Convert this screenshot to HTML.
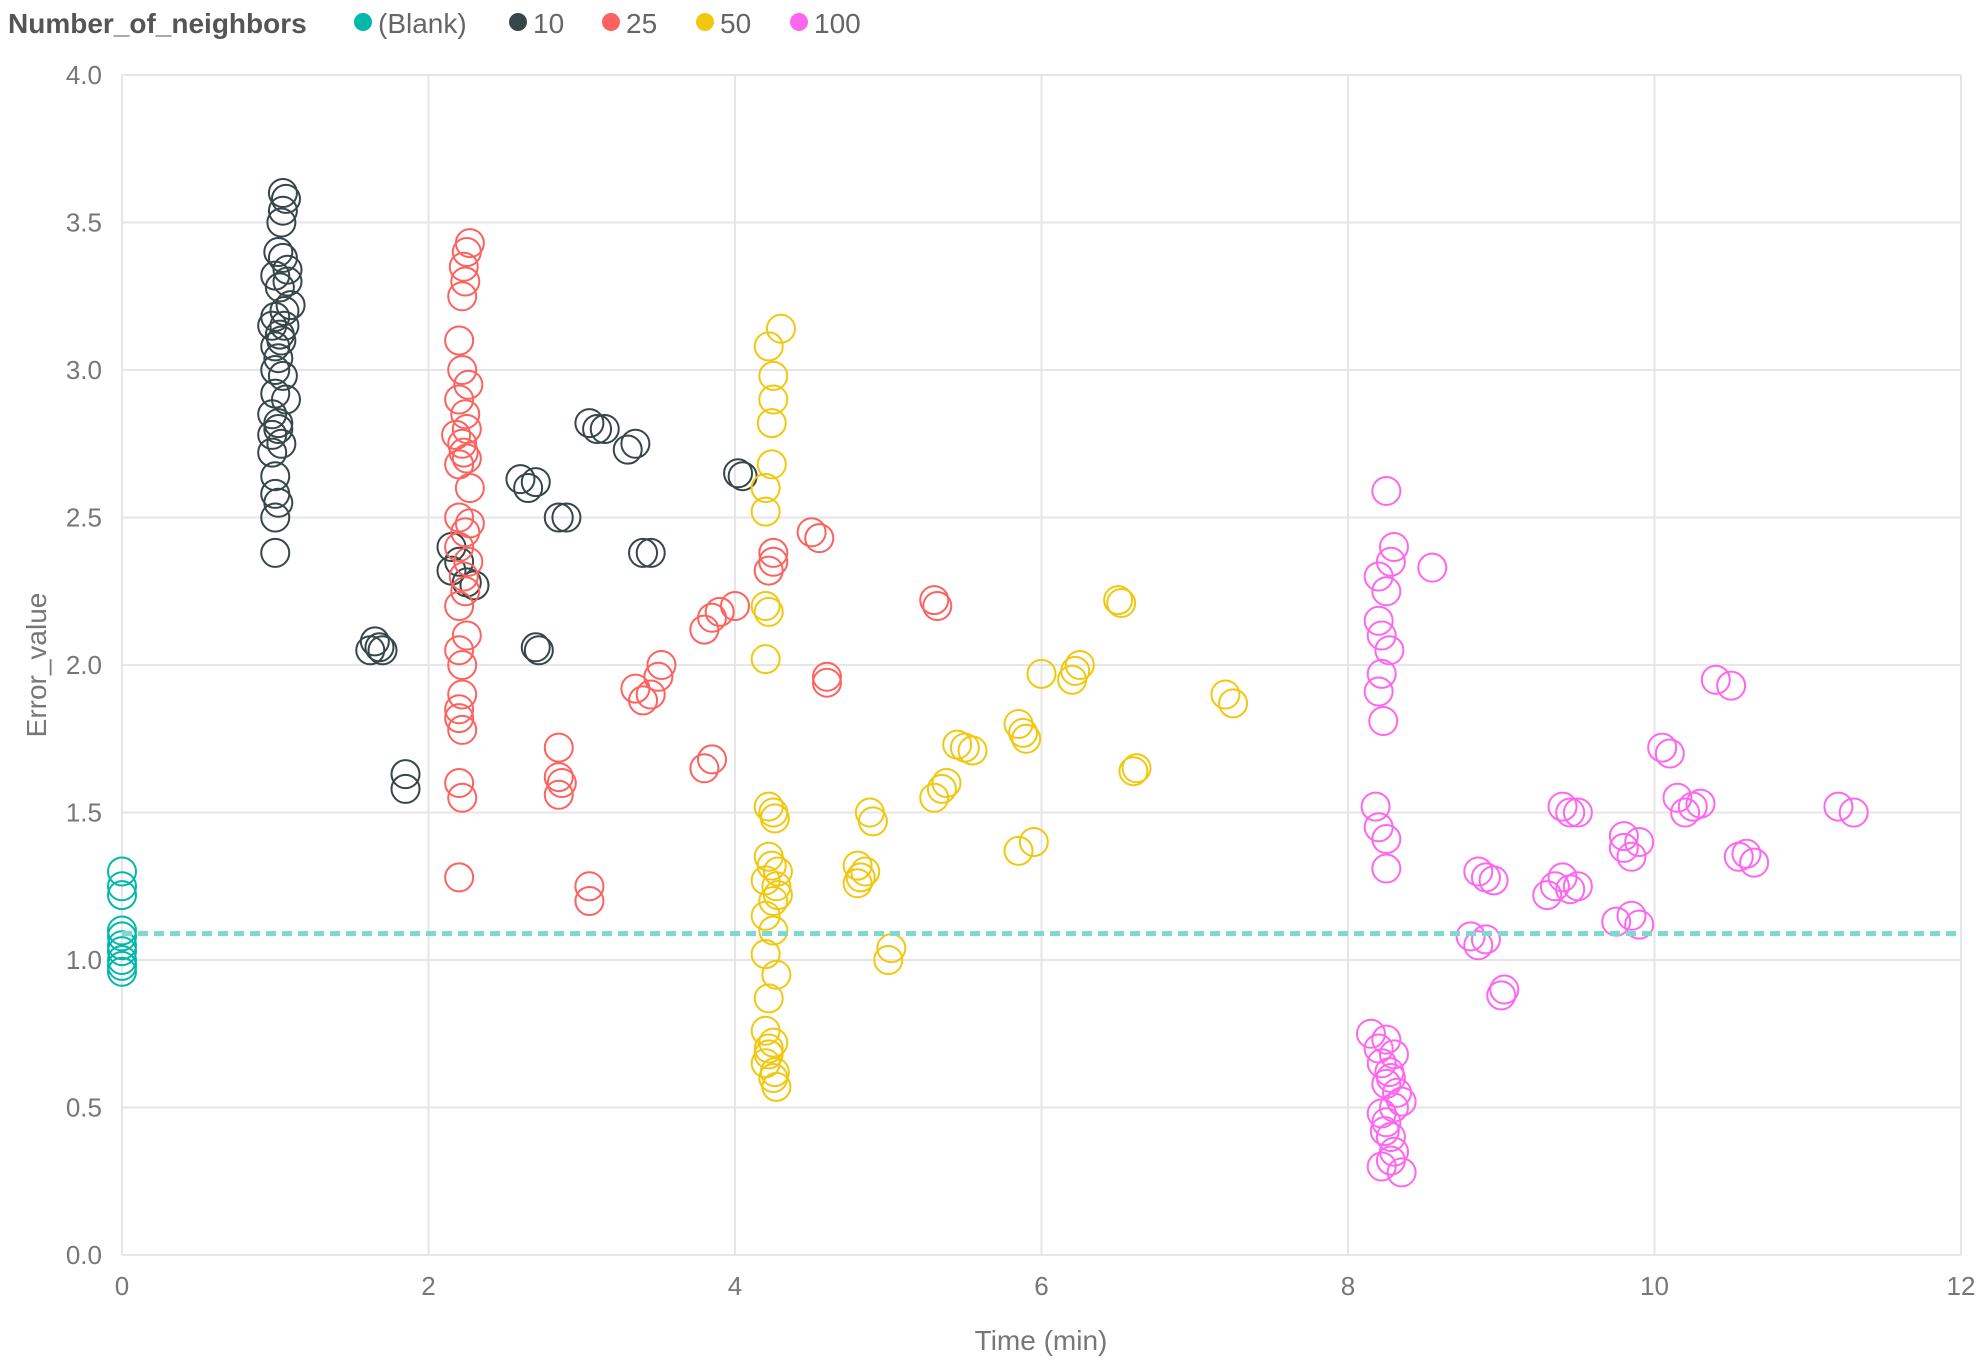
<!DOCTYPE html>
<html><head><meta charset="utf-8"><style>
body{margin:0;background:#fff;font-family:"Segoe UI","Liberation Sans",sans-serif;}
svg{display:block}
</style></head><body>
<svg id="chart" width="1985" height="1368" xmlns="http://www.w3.org/2000/svg">
<g id="legend" font-size="28" fill="#666">
<text x="8" y="33" font-weight="bold" fill="#555">Number_of_neighbors</text>
<g><circle cx="363" cy="22" r="9" fill="#01B8AA"/><text x="378" y="33">(Blank)</text></g>
<g><circle cx="518" cy="22" r="9" fill="#374649"/><text x="533" y="33">10</text></g>
<g><circle cx="611" cy="22" r="9" fill="#FD625E"/><text x="626" y="33">25</text></g>
<g><circle cx="705" cy="22" r="9" fill="#F2C80F"/><text x="720" y="33">50</text></g>
<g><circle cx="799" cy="22" r="9" fill="#FF66F0"/><text x="814" y="33">100</text></g>
</g>
<g id="grid"></g>
<g id="axes"></g>
<g id="marks"></g>
<text x="1041" y="1350" text-anchor="middle" font-size="28" fill="#777">Time (min)</text>
<text transform="translate(46,665) rotate(-90)" text-anchor="middle" font-size="28" fill="#777">Error_value</text>
</svg>
<script>
const xTicks=[0,2,4,6,8,10,12];
const yTicks=[0,0.5,1,1.5,2,2.5,3,3.5,4];
const yTickLabels=["0.0","0.5","1.0","1.5","2.0","2.5","3.0","3.5","4.0"];
const seriesNames=["(Blank)","10","25","50","100"];
const seriesColors=["#01B8AA","#374649","#FD625E","#F2C80F","#FF66F0"];
const blankX=[0,0,0,0,0,0,0,0,0,0];
const blankY=[1.3,1.25,1.22,1.1,1.08,1.05,1.03,1.0,0.98,0.96];
const blankAverage=1.09;
const n10X=[1.05,1.07,1.05,1.04,1.02,1.05,1.0,1.08,1.03,1.1,1.0,1.06,0.98,1.04,1.0,1.02,1.05,1.0,0.98,1.02,0.98,1.04,0.98,1.0,1.0,1.02,1.0,1.0,1.08,1.06,1.03,1.0,1.07,1.02,1.65,1.68,1.62,1.7,1.85,1.85,2.15,2.2,2.15,2.25,2.3,2.6,2.65,2.7,2.85,2.9,2.7,2.72,3.05,3.1,3.15,3.3,3.35,3.4,3.45,4.02,4.05];
const n10Y=[3.6,3.58,3.54,3.5,3.4,3.38,3.32,3.3,3.28,3.22,3.18,3.15,3.15,3.1,3.08,3.04,2.98,2.92,2.85,2.82,2.78,2.75,2.72,2.64,2.58,2.55,2.5,2.38,3.34,3.2,3.12,3.0,2.9,2.8,2.08,2.06,2.05,2.05,1.63,1.58,2.4,2.35,2.32,2.28,2.27,2.63,2.6,2.62,2.5,2.5,2.06,2.05,2.82,2.8,2.8,2.73,2.75,2.38,2.38,2.65,2.64];
const n25X=[2.27,2.25,2.23,2.24,2.22,2.2,2.22,2.26,2.2,2.24,2.18,2.22,2.25,2.2,2.27,2.2,2.24,2.2,2.26,2.23,2.2,2.25,2.2,2.22,2.22,2.2,2.22,2.2,2.22,2.2,2.25,2.23,2.27,2.24,2.2,2.85,2.85,2.87,2.85,3.05,3.05,3.35,3.4,3.45,3.5,3.52,3.8,3.85,3.8,3.85,3.9,4.0,4.25,4.25,4.22,4.5,4.55,4.6,4.6,5.3,5.32];
const n25Y=[3.43,3.4,3.35,3.3,3.25,3.1,3.0,2.95,2.9,2.85,2.78,2.75,2.7,2.68,2.6,2.5,2.45,2.4,2.35,2.3,2.2,2.1,2.05,2.0,1.9,1.82,1.78,1.6,1.55,1.28,2.8,2.72,2.48,2.25,1.85,1.72,1.62,1.6,1.56,1.25,1.2,1.92,1.88,1.9,1.96,2.0,1.65,1.68,2.12,2.16,2.18,2.2,2.38,2.35,2.32,2.45,2.43,1.96,1.94,2.22,2.2];
const n50X=[4.3,4.22,4.25,4.25,4.24,4.24,4.2,4.2,4.2,4.22,4.2,4.22,4.25,4.26,4.22,4.28,4.2,4.27,4.25,4.2,4.25,4.2,4.27,4.22,4.2,4.25,4.22,4.2,4.25,4.27,4.24,4.28,4.22,4.26,4.8,4.82,4.85,4.8,4.88,4.9,5.0,5.02,5.3,5.35,5.38,5.45,5.5,5.55,5.85,5.88,5.9,5.85,5.95,6.0,6.2,6.22,6.25,6.5,6.52,6.6,6.62,7.2,7.25];
const n50Y=[3.14,3.08,2.98,2.9,2.82,2.68,2.6,2.52,2.2,2.18,2.02,1.52,1.5,1.48,1.35,1.3,1.27,1.25,1.2,1.15,1.1,1.02,0.95,0.87,0.76,0.72,0.68,0.65,0.6,0.57,1.32,1.22,0.7,0.62,1.32,1.28,1.3,1.26,1.5,1.47,1.0,1.04,1.55,1.58,1.6,1.73,1.72,1.71,1.8,1.77,1.75,1.37,1.4,1.97,1.95,1.98,2.0,2.22,2.21,1.64,1.65,1.9,1.87];
const n100X=[8.25,8.3,8.28,8.2,8.25,8.2,8.22,8.27,8.22,8.2,8.23,8.18,8.2,8.25,8.25,8.15,8.25,8.2,8.3,8.22,8.28,8.25,8.32,8.35,8.22,8.25,8.28,8.3,8.22,8.35,8.27,8.3,8.24,8.28,8.55,8.8,8.85,8.9,8.85,8.9,8.95,9.0,9.02,9.3,9.35,9.4,9.45,9.5,9.4,9.45,9.5,9.75,9.8,9.8,9.85,9.9,9.9,9.85,10.05,10.1,10.15,10.2,10.25,10.3,10.4,10.5,10.55,10.6,10.65,11.2,11.3];
const n100Y=[2.59,2.4,2.35,2.3,2.25,2.15,2.1,2.05,1.97,1.91,1.81,1.52,1.45,1.41,1.31,0.75,0.73,0.7,0.68,0.65,0.6,0.58,0.55,0.52,0.48,0.45,0.4,0.35,0.3,0.28,0.62,0.5,0.42,0.32,2.33,1.08,1.05,1.07,1.3,1.28,1.27,0.88,0.9,1.22,1.25,1.28,1.24,1.25,1.52,1.5,1.5,1.13,1.42,1.38,1.35,1.4,1.12,1.15,1.72,1.7,1.55,1.5,1.52,1.53,1.95,1.93,1.35,1.36,1.33,1.52,1.5];

const X0=122,X1=1961,Y0=1255,Y1=75;
const sx=v=>X0+(v-0)/(12-0)*(X1-X0);
const sy=v=>Y0-(v-0)/(4-0)*(Y0-Y1);
const NS="http://www.w3.org/2000/svg";
function mk(tag,attrs,parent){const e=document.createElementNS(NS,tag);for(const k in attrs)e.setAttribute(k,attrs[k]);parent.appendChild(e);return e;}
const grid=document.getElementById('grid'),axes=document.getElementById('axes'),marks=document.getElementById('marks');
yTicks.forEach((t,i)=>{
  const l=mk('line',{x1:X0,x2:X1,y1:sy(t),y2:sy(t),stroke:'#e6e6e6','stroke-width':2},grid);
  
  
  const tx=mk('text',{x:102,y:sy(t)+9,'text-anchor':'end','font-size':26,fill:'#777'},axes);
  tx.textContent=yTickLabels[i];
  
  
});
xTicks.forEach(t=>{
  const l=mk('line',{x1:sx(t),x2:sx(t),y1:Y1,y2:Y0,stroke:'#e6e6e6','stroke-width':2},grid);
  
  
  const tx=mk('text',{x:sx(t),y:1295,'text-anchor':'middle','font-size':26,fill:'#777'},axes);
  tx.textContent=String(t);
  
  
});
const series=[[blankX,blankY],[n10X,n10Y],[n25X,n25Y],[n50X,n50Y],[n100X,n100Y]];
series.forEach((s,si)=>{
  const g=mk('g',{},marks);
  
  
  s[0].forEach((xv,i)=>{
    const c=mk('circle',{cx:sx(xv),cy:sy(s[1][i]),r:14,fill:'none',stroke:seriesColors[si],'stroke-width':2},g);
    
    
  });
});
const avg=mk('line',{x1:X0,x2:X1,y1:sy(blankAverage),y2:sy(blankAverage),stroke:'#7ED9D1','stroke-width':5,'stroke-dasharray':'10 6'},marks);


</script>
</body></html>
